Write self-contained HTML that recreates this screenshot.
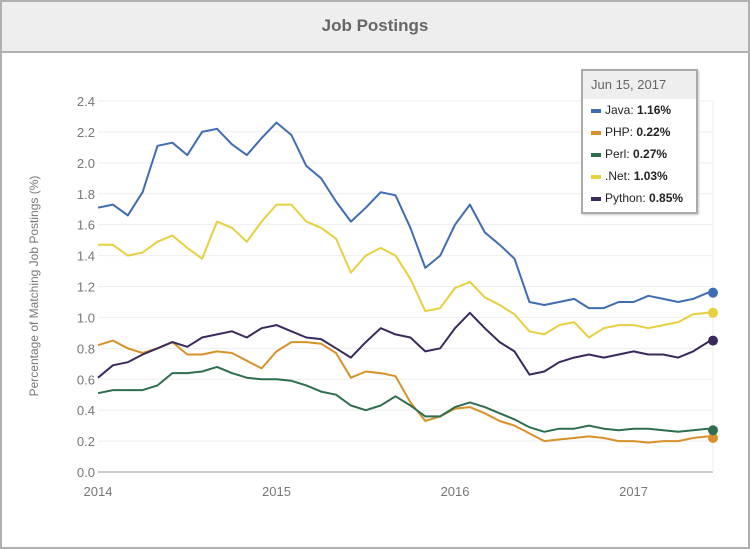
<!DOCTYPE html>
<html><head><meta charset="utf-8"><style>
body{margin:0;width:750px;height:539px;overflow:hidden;background:#fff;font-family:"Liberation Sans",sans-serif}
#frame{position:absolute;left:0;top:0;width:746px;height:545px;border:2px solid #b0b0b0;}
#hdr{position:absolute;left:2px;top:2px;width:746px;height:49px;background:#eeeeee;border-bottom:2px solid #b0b0b0;text-align:center;line-height:48px;font-weight:bold;font-size:17px;color:#666}
#tip{position:absolute;left:581px;top:69px;width:113px;height:141px;border:2px solid #aaa;background:#fff;font-size:12px;color:#222;box-shadow:1px 1px 2px #ccc}
#tip .h{background:#eee;height:28px;line-height:28px;padding-left:8px;color:#666;font-size:13px}
#tip .r{height:22px;line-height:22px;padding-left:8px}
#tip .sw{display:inline-block;width:10px;height:4px;vertical-align:middle;margin-right:4px}
</style></head><body>
<div id="frame"></div>
<div id="hdr">Job Postings</div>
<svg id="chart" width="750" height="539" style="position:absolute;left:0;top:0"></svg>
<div id="tip">
<div class="h">Jun 15, 2017</div>
<div class="r"><span class="sw" style="background:#3f6db3"></span>Java: <b>1.16%</b></div>
<div class="r"><span class="sw" style="background:#d8912a"></span>PHP: <b>0.22%</b></div>
<div class="r"><span class="sw" style="background:#2e6e4e"></span>Perl: <b>0.27%</b></div>
<div class="r"><span class="sw" style="background:#e6d040"></span>.Net: <b>1.03%</b></div>
<div class="r"><span class="sw" style="background:#3a2a5c"></span>Python: <b>0.85%</b></div>
</div>
<script>
const months = Array.from({length:42},(_,i)=>2014+i/12).concat([2017.445]);
const javaVals = [1.71,1.73,1.66,1.81,2.11,2.13,2.05,2.20,2.22,2.12,2.05,2.16,2.26,2.18,1.98,1.90,1.75,1.62,1.71,1.81,1.79,1.58,1.32,1.40,1.60,1.73,1.55,1.47,1.38,1.10,1.08,1.10,1.12,1.06,1.06,1.10,1.10,1.14,1.12,1.10,1.12,1.16,1.16];
const phpVals = [0.82,0.85,0.80,0.77,0.80,0.84,0.76,0.76,0.78,0.77,0.72,0.67,0.78,0.84,0.84,0.83,0.77,0.61,0.65,0.64,0.62,0.45,0.33,0.36,0.41,0.42,0.38,0.33,0.30,0.25,0.20,0.21,0.22,0.23,0.22,0.20,0.20,0.19,0.20,0.20,0.22,0.23,0.22];
const perlVals = [0.51,0.53,0.53,0.53,0.56,0.64,0.64,0.65,0.68,0.64,0.61,0.60,0.60,0.59,0.56,0.52,0.50,0.43,0.40,0.43,0.49,0.43,0.36,0.36,0.42,0.45,0.42,0.38,0.34,0.29,0.26,0.28,0.28,0.30,0.28,0.27,0.28,0.28,0.27,0.26,0.27,0.28,0.27];
const netVals = [1.47,1.47,1.40,1.42,1.49,1.53,1.45,1.38,1.62,1.58,1.49,1.62,1.73,1.73,1.62,1.58,1.51,1.29,1.40,1.45,1.40,1.25,1.04,1.06,1.19,1.23,1.13,1.08,1.02,0.91,0.89,0.95,0.97,0.87,0.93,0.95,0.95,0.93,0.95,0.97,1.02,1.03,1.03];
const pythonVals = [0.61,0.69,0.71,0.76,0.80,0.84,0.81,0.87,0.89,0.91,0.87,0.93,0.95,0.91,0.87,0.86,0.80,0.74,0.84,0.93,0.89,0.87,0.78,0.80,0.93,1.03,0.93,0.84,0.78,0.63,0.65,0.71,0.74,0.76,0.74,0.76,0.78,0.76,0.76,0.74,0.78,0.84,0.85];
const yTicks = ["0.0","0.2","0.4","0.6","0.8","1.0","1.2","1.4","1.6","1.8","2.0","2.2","2.4"];
const xTicks = ["2014","2015","2016","2017"];

const NS="http://www.w3.org/2000/svg";
const svg=document.getElementById('chart');
const X0=98,X1=713,Y0=472,YT=101;
const xs=t=>X0+(t-2014)*(X1-X0)/(2017.445-2014);
const ys=v=>Y0-v*(Y0-YT)/2.4;
function mk(tag,attrs){const e=document.createElementNS(NS,tag);for(const k in attrs)e.setAttribute(k,attrs[k]);svg.appendChild(e);return e;}
yTicks.forEach(lbl=>{
  const v=parseFloat(lbl),y=ys(v);
  const g=mk('line',{x1:X0,x2:X1,y1:y,y2:y,stroke:v===0?'#ccc':'#eeeeee','stroke-width':v===0?2:1});
  
  
  const t=mk('text',{x:95,y:y+5,'text-anchor':'end','font-size':13,fill:'#777'});
  t.textContent=lbl;
  
  
});
const rb=mk('line',{x1:X1,x2:X1,y1:YT,y2:Y0,stroke:'#eee'});


xTicks.forEach(lbl=>{
  const t=mk('text',{x:xs(+lbl),y:496,'text-anchor':'middle','font-size':13,fill:'#777'});
  t.textContent=lbl;
  
  
});
const yt=mk('text',{x:0,y:0,transform:'translate(38,286) rotate(-90)','text-anchor':'middle','font-size':12,fill:'#777'});
yt.textContent='Percentage of Matching Job Postings (%)';


const series=[['php',phpVals,'#d8912a'],['perl',perlVals,'#2e6e4e'],['net',netVals,'#e6d040'],['python',pythonVals,'#3a2a5c'],['java',javaVals,'#3f6db3']];
series.forEach(([n,vals,c])=>{
  const d=vals.map((v,i)=>(i?'L':'M')+xs(months[i]).toFixed(1)+','+ys(v).toFixed(1)).join('');
  const p=mk('path',{d:d,fill:'none',stroke:c,'stroke-width':2,'stroke-linejoin':'round'});
  
  
  const last=vals.length-1;
  const dot=mk('circle',{cx:xs(months[last]),cy:ys(vals[last]),r:5,fill:c});
  
  
});
</script>
</body></html>
